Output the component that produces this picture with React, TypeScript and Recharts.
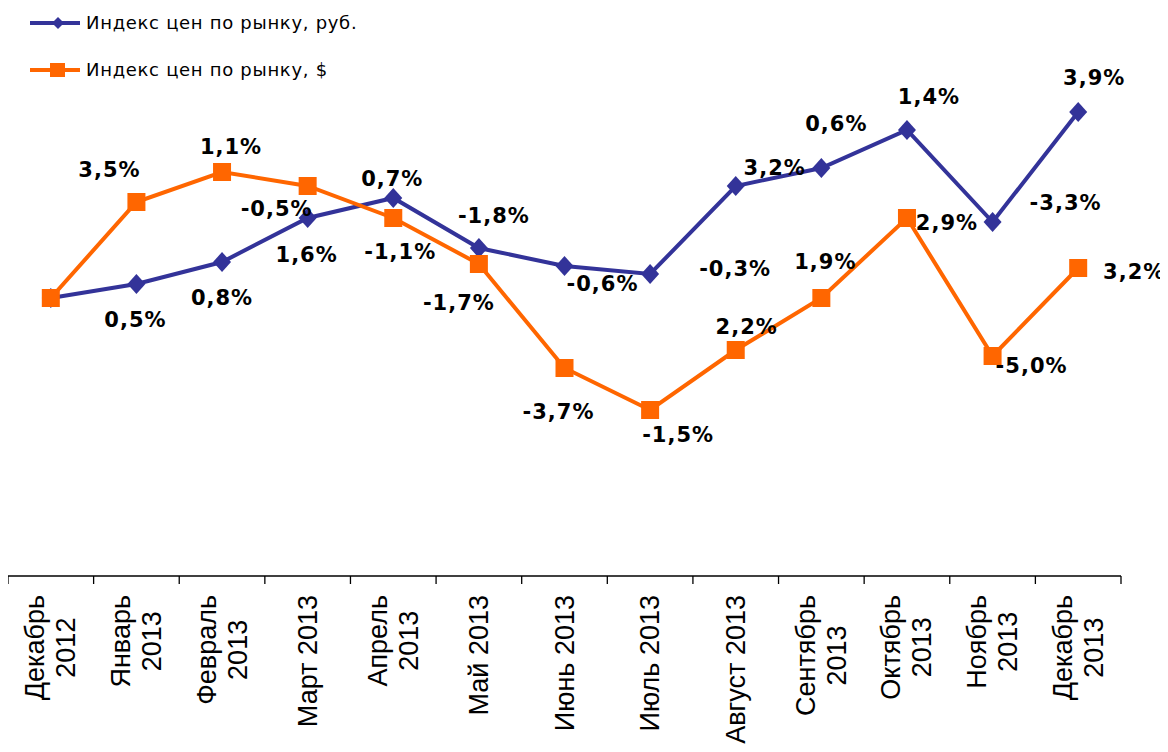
import React from 'react'
import { ComposedChart, Line, XAxis, YAxis, LabelList } from 'recharts'

// categories (line breaks as in the original axis)
const months = [
  'Декабрь\n2012', 'Январь\n2013', 'Февраль\n2013', 'Март 2013', 'Апрель\n2013',
  'Май 2013', 'Июнь 2013', 'Июль 2013', 'Август 2013', 'Сентябрь\n2013',
  'Октябрь\n2013', 'Ноябрь\n2013', 'Декабрь\n2013',
]

// price index, Dec 2012 = 100
const rubIndex = [100.0, 100.7, 101.8, 104.0, 105.0, 102.5, 101.6, 101.2, 105.6, 106.5, 108.4, 103.8, 109.3]
const usdIndex = [100.0, 104.8, 106.3, 105.6, 104.0, 101.7, 96.5, 94.4, 97.4, 100.0, 104.0, 97.1, 101.5]

// monthly change labels
const rubLabels = [null, '0,5%', '0,8%', '1,6%', '0,7%', '-1,8%', '-0,6%', '-0,3%', '3,2%', '0,6%', '1,4%', '-3,3%', '3,9%']
const usdLabels = [null, '3,5%', '1,1%', '-0,5%', '-1,1%', '-1,7%', '-3,7%', '-1,5%', '2,2%', '1,9%', '2,9%', '-5,0%', '3,2%']

// label offsets from their points (manually placed in the original)
const rubOffsets = [[0, 0], [-1, 36], [0, 36], [-1, 37], [-1, -19], [15, -32], [38, 18], [85, -5], [39, -18], [15, -44], [22, -33], [73, -19], [16, -34]]
const usdOffsets = [[0, 0], [-27, -32], [9, -25], [-31, 23], [7, 34], [-20, 39], [-6, 44], [28, 25], [11, -23], [4, -36], [40, 5], [39, 10], [56, 4]]

const BLUE = '#333399'
const ORANGE = '#FF6600'
const W = 1160
const H = 744
const PLOT_RIGHT = 47
const AXIS_FONT = "27px 'Liberation Sans'"

const data = months.map((m, i) => ({
  month: m,
  rub: rubIndex[i],
  usd: usdIndex[i],
  rubLabel: rubLabels[i],
  usdLabel: usdLabels[i],
}))

let ctx: CanvasRenderingContext2D | null = null
const measure = (s: string) => {
  if (!ctx) ctx = document.createElement('canvas').getContext('2d')
  if (!ctx) return s.length * 14
  ctx.font = AXIS_FONT
  return ctx.measureText(s).width
}

const bandWidth = (W - PLOT_RIGHT) / months.length

const AxisTick = (props: any) => {
  const { x, y, payload, index } = props
  const lines: string[] = String(payload.value).split('\n')
  const maxLen = Math.max(...lines.map(measure))
  const cy = y + 19 + maxLen / 2
  const lh = 31
  return (
    <g>
      <line x1={x - bandWidth / 2} y1={y} x2={x - bandWidth / 2} y2={y + 8} stroke="#000" strokeWidth={1.3} />
      {index === months.length - 1 && (
        <line x1={x + bandWidth / 2} y1={y} x2={x + bandWidth / 2} y2={y + 8} stroke="#000" strokeWidth={1.3} />
      )}
      <g transform={`translate(${x},${cy}) rotate(-90)`}>
        {lines.map((t, i) => (
          <text
            key={i}
            x={0}
            y={(i - (lines.length - 1) / 2) * lh}
            textAnchor="middle"
            dominantBaseline="central"
            fontFamily="'Liberation Sans', Arial, sans-serif"
            fontSize={27}
            fill="#000"
          >
            {t}
          </text>
        ))}
      </g>
    </g>
  )
}

const makeLabel = (offsets: number[][]) => (props: any) => {
  const { value, index } = props
  if (!value) return null
  const x = props.x ?? props.viewBox?.x
  const y = props.y ?? props.viewBox?.y
  const [dx, dy] = offsets[index]
  return (
    <text
      x={x + dx}
      y={y + dy}
      textAnchor="middle"
      dominantBaseline="central"
      fontFamily="'DejaVu Sans', Verdana, sans-serif"
      fontWeight="bold"
      fontSize={21}
      letterSpacing={1}
      fill="#000"
    >
      {value}
    </text>
  )
}

const Diamond = (props: any) => {
  const { cx, cy, index } = props
  return <path key={index} d={`M${cx},${cy - 10}L${cx + 9},${cy}L${cx},${cy + 10}L${cx - 9},${cy}Z`} fill={BLUE} />
}

const Square = (props: any) => {
  const { cx, cy, index } = props
  return <rect key={index} x={cx - 9} y={cy - 9} width={18} height={18} fill={ORANGE} />
}

const Legend = () => (
  <svg width={400} height={90} style={{ position: 'absolute', left: 0, top: 0 }}>
    <line x1={22} y1={15} x2={72} y2={15} stroke={BLUE} strokeWidth={4} />
    <path d="M50,9L56,15L50,21L44,15Z" fill={BLUE} />
    <text x={78} y={14} dominantBaseline="central" fontFamily="'DejaVu Sans', Verdana, sans-serif" fontSize={18} letterSpacing={0.7} fill="#000">
      Индекс цен по рынку, руб.
    </text>
    <line x1={22} y1={62} x2={72} y2={62} stroke={ORANGE} strokeWidth={4} />
    <rect x={42} y={55} width={15} height={14} fill={ORANGE} />
    <text x={78} y={61} dominantBaseline="central" fontFamily="'DejaVu Sans', Verdana, sans-serif" fontSize={18} letterSpacing={0.7} fill="#000">
      Индекс цен по рынку, $
    </text>
  </svg>
)

export default function App() {
  return (
    <div style={{ position: 'relative', width: W, height: H }}>
      <ComposedChart width={W} height={H} data={data} margin={{ top: 8, right: PLOT_RIGHT, left: 0, bottom: 0 }}>
        <XAxis
          dataKey="month"
          interval={0}
          height={176}
          padding={{ left: bandWidth / 2, right: bandWidth / 2 }}
          tickSize={0}
          tickMargin={0}
          tickLine={false}
          axisLine={{ stroke: '#000', strokeWidth: 1.3 }}
          tick={<AxisTick />}
        />
        <YAxis hide domain={[86.1, 114.1]} allowDataOverflow />
        <Line
          dataKey="rub"
          stroke={BLUE}
          strokeWidth={4}
          dot={<Diamond />}
          activeDot={false}
          isAnimationActive={false}
        >
          <LabelList dataKey="rubLabel" content={makeLabel(rubOffsets)} />
        </Line>
        <Line
          dataKey="usd"
          stroke={ORANGE}
          strokeWidth={4}
          dot={<Square />}
          activeDot={false}
          isAnimationActive={false}
        >
          <LabelList dataKey="usdLabel" content={makeLabel(usdOffsets)} />
        </Line>
      </ComposedChart>
      <Legend />
    </div>
  )
}
